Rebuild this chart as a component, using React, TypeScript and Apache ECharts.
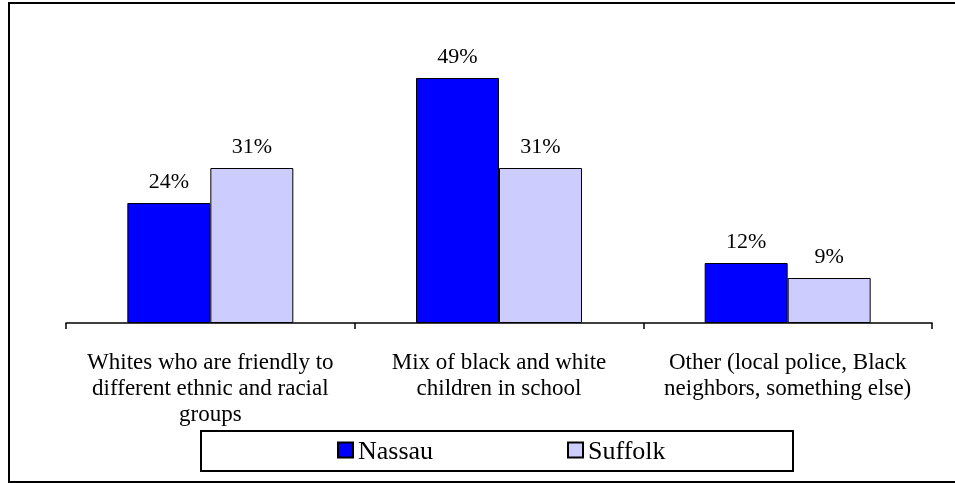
import React, { useEffect, useRef } from "react";
import * as echarts from "echarts";

const categories = [
  "Whites who are friendly to\ndifferent ethnic and racial\ngroups",
  "Mix of black and white\nchildren in school",
  "Other (local police, Black\nneighbors, something else)",
];
const seriesNames = ["Nassau", "Suffolk"];
const nassau = [24, 49, 12];
const suffolk = [31, 31, 9];
const colors = ["#0000FF", "#CCCCFF"];

const SERIF = "Times New Roman";

export default function App() {
  const ref = useRef<HTMLDivElement>(null);
  useEffect(() => {
    if (!ref.current) return;
    const chart = echarts.init(ref.current, null, { renderer: "svg" });
    const mkSeries = (name: string, data: number[], color: string) => ({
      name,
      type: "bar",
      data,
      barGap: "0%",
      barCategoryGap: "42.5%",
      itemStyle: { color, borderColor: "#000000", borderWidth: 1 },
      label: {
        show: true,
        position: "top",
        distance: 12,
        formatter: "{c}%",
        color: "#000000",
        fontFamily: SERIF,
        fontSize: 22,
      },
    });
    chart.setOption({
      animation: false,
      textStyle: { fontFamily: SERIF },
      graphic: [
        {
          type: "rect",
          shape: { x: 9, y: 3, width: 960, height: 479 },
          style: { fill: "none", stroke: "#000", lineWidth: 2 },
          z: 0,
        },
        {
          type: "rect",
          shape: { x: 201, y: 431, width: 592, height: 40 },
          style: { fill: "#fff", stroke: "#000", lineWidth: 2 },
          z: 0,
        },
      ],
      grid: { left: 66, right: 23, top: 23, bottom: 160 },
      xAxis: {
        type: "category",
        data: categories,
        axisLine: { lineStyle: { color: "#000", width: 1.5 } },
        axisTick: { show: true, length: 6, lineStyle: { color: "#000", width: 1.5 } },
        axisLabel: {
          color: "#000000",
          fontFamily: SERIF,
          fontSize: 23,
          lineHeight: 26,
          margin: 25,
          interval: 0,
        },
      },
      yAxis: {
        type: "value",
        min: 0,
        max: 60,
        show: false,
        splitLine: { show: false },
      },
      legend: [
        {
          data: [seriesNames[0]],
          left: 337,
          top: 437,
          padding: 0,
          icon: "rect",
          itemWidth: 15,
          itemHeight: 15,
          textStyle: { fontFamily: SERIF, fontSize: 26, color: "#000000" },
        },
        {
          data: [seriesNames[1]],
          left: 567,
          top: 437,
          padding: 0,
          icon: "rect",
          itemWidth: 15,
          itemHeight: 15,
          textStyle: { fontFamily: SERIF, fontSize: 26, color: "#000000" },
        },
      ],
      series: [
        mkSeries(seriesNames[0], nassau, colors[0]),
        mkSeries(seriesNames[1], suffolk, colors[1]),
      ],
    });
    return () => chart.dispose();
  }, []);
  return <div ref={ref} style={{ position: "fixed", left: 0, top: 0, width: 955, height: 483 }} />;
}
